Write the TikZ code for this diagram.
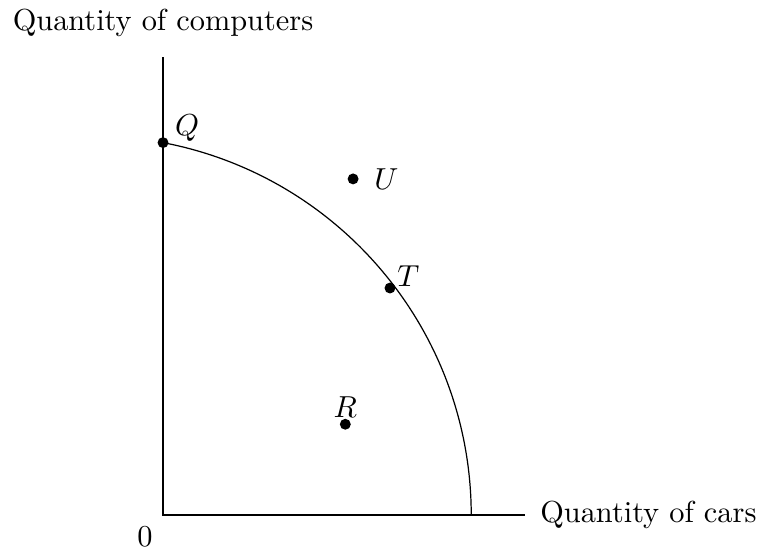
\documentclass[tikz,border=0pt]{standalone}
\usepackage{amsmath,amssymb}
\usepackage{tikz}
\usetikzlibrary{positioning,calc}

\begin{document}
\begin{tikzpicture}[x=1cm,y=1cm,
    pt/.style={circle,fill=black,inner sep=0pt,minimum size=3.6pt}]
    \useasboundingbox (-1.887,-0.382) rectangle (6.933,5.961);
    % axes
    \coordinate (O) at (0,0);
    \coordinate (ytop) at (0,5.30);
    \coordinate (xend) at (4.19,0);
    \draw (ytop) -- (O) -- (xend);
    \node[anchor=west,inner sep=0pt] (xlab) at (4.36,0) {Quantity of cars};
    \node (ylab) at (0,5.69) {Quantity of computers};
    \node (zero) at (-0.21,-0.25) {$0$};
    % frontier
    \node[pt] (Q) at (0,4.31) {};
    \draw (Q.center) arc[start angle=79.2,end angle=0,radius=4.39] coordinate (C);
    \node[pt] (T) at (2.627,2.627) {};
    \node[pt] (U) at (2.20,3.89) {};
    \node[pt] (R) at (2.11,1.05) {};
    \node[above right=-4.5pt and -1pt of Q] (Qlab) {$Q$};
    \node[right=1.5pt of U] (Ulab) {$U$};
    \node[above right=-4.5pt and -2.5pt of T] (Tlab) {$T$};
    \node[above=-3.3pt of R] (Rlab) {$R$};
  \end{tikzpicture}
\end{document}
